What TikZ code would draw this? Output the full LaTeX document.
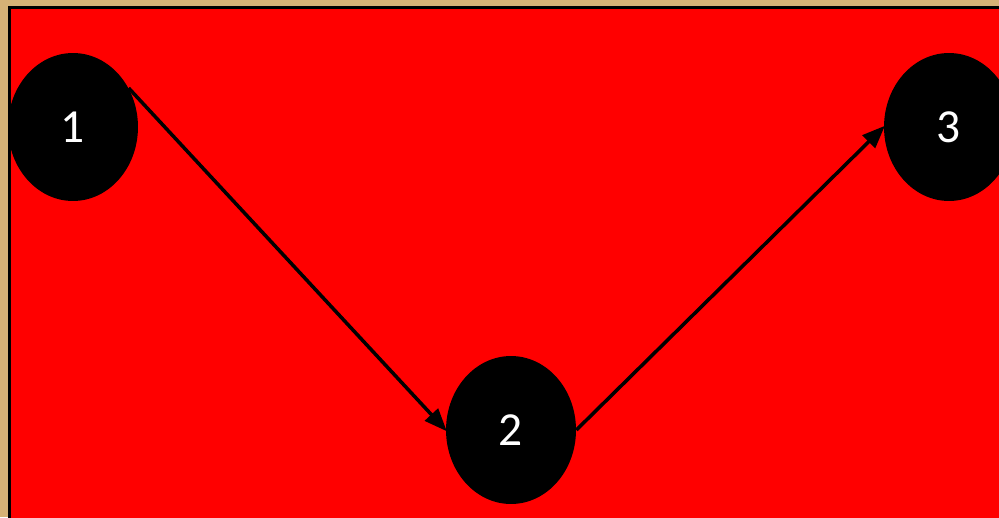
\documentclass[tikz,border=0pt]{standalone}
\usepackage{fontspec}
\setmainfont{Carlito}
\usetikzlibrary{arrows.meta,shapes.geometric}

\begin{document}
\begin{tikzpicture}[
    x=0.02cm, y=-0.02cm,
    state/.style={ellipse, fill=black, text=white, inner sep=0pt, minimum width=2.6cm, minimum height=2.96cm, font=\fontsize{27}{31}\selectfont},
    link/.style={-{Triangle[length=13pt,width=10pt]}, line width=2pt, shorten >=-1pt}
]
\definecolor{parchment}{RGB}{214,178,118}
\useasboundingbox (0,0) rectangle (999,517);
\clip (0,0) rectangle (999,517);
\fill[parchment] (0,0) rectangle (999,517);
\filldraw[fill=red, draw=black, line width=0.06cm] (9.5,7.5) rectangle (1012,530);
\node[state] (one) at (73,127) {1};
\node[state] (two) at (511,430) {2};
\node[state] (three) at (949,127) {3};
\draw[link] (one.35) -- (two.west);
\draw[link] (two.east) -- (three.west);
\end{tikzpicture}
\end{document}
